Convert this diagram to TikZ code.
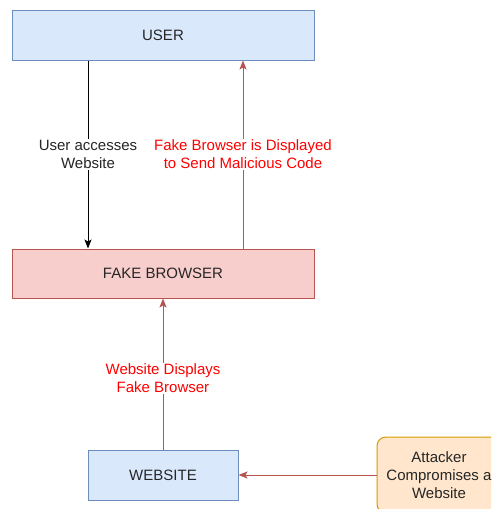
\documentclass[tikz,border=0pt]{standalone}
\usepackage{fontspec}
\setmainfont{Liberation Sans}
\usetikzlibrary{arrows.meta}
\definecolor{bluefill}{HTML}{DAE8FC}
\definecolor{blueline}{HTML}{6C8EBF}
\definecolor{redfill}{HTML}{F8CECC}
\definecolor{redline}{HTML}{B85450}
\definecolor{orfill}{HTML}{FFE6CC}
\definecolor{orline}{HTML}{D79B00}
\definecolor{txt}{HTML}{262626}
\tikzset{
  bluebox/.style={draw=blueline, fill=bluefill, line width=1pt, text=txt, inner sep=0pt},
  redbox/.style={draw=redline, fill=redfill, line width=1pt, text=txt, inner sep=0pt},
  orbox/.style={draw=orline, fill=orfill, line width=1pt, text=txt, rounded corners=9pt, align=center, inner sep=0pt},
  arr/.style={line width=0.9pt, -{Stealth[length=9pt,width=7pt,inset=2pt]}},
  lbl/.style={fill=white, align=center, inner sep=1pt},
}
\begin{document}
\begin{tikzpicture}[x=1pt,y=-1pt, font=\fontsize{15}{18}\selectfont]
\useasboundingbox (0,0) rectangle (491,509);
\clip (0,0) rectangle (491,509);
\fill[white] (0,0) rectangle (491,509);
\node[bluebox, minimum width=302pt, minimum height=50pt] (user) at (163,35) {USER};
\node[redbox, minimum width=302pt, minimum height=49pt] (fake) at (163,273.5) {FAKE BROWSER};
\node[bluebox, minimum width=150pt, minimum height=50pt] (web) at (163,475) {WEBSITE};
\node[orbox, minimum width=124pt, minimum height=76pt] (att) at (439,475) {Attacker\\Compromises a\\Website};
\draw[arr, black] (user.south -| 88,0) -- (fake.north -| 88,0) node[lbl, text=txt, pos=0.5] {User accesses\\Website};
\draw[arr, redline] (fake.north -| 243,0) -- (user.south -| 243,0) node[lbl, text=red, pos=0.5] {Fake Browser is Displayed\\to Send Malicious Code};
\draw[arr, redline] (web.north) -- (fake.south) node[lbl, text=red, pos=0.47] {Website Displays\\Fake Browser};
\draw[arr, redline] (att.west) -- (web.east);
\end{tikzpicture}
\end{document}
